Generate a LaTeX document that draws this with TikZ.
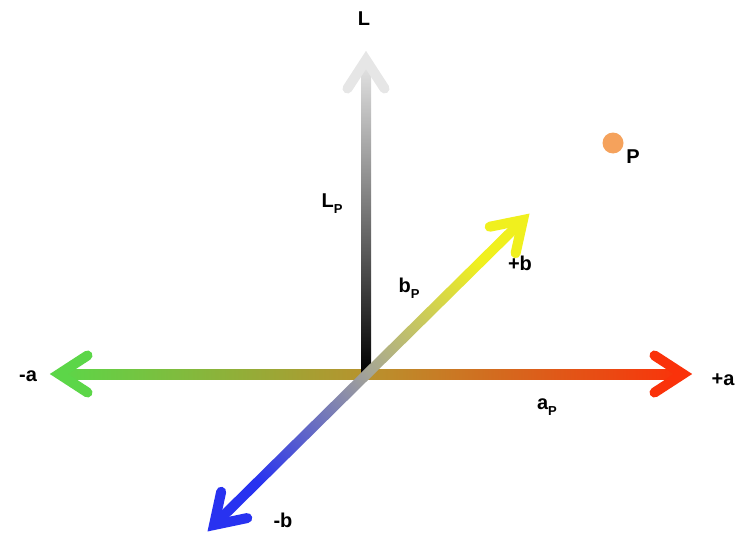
\documentclass[tikz,border=0pt]{standalone}
\usepackage{fontspec}
\setmainfont{Liberation Sans}
\usetikzlibrary{calc}
\definecolor{agreen}{RGB}{92,214,72}
\definecolor{ared}{RGB}{250,50,10}
\definecolor{amid}{RGB}{185,145,45}
\definecolor{byellow}{RGB}{240,240,30}
\definecolor{bblue}{RGB}{40,50,240}
\definecolor{bmid}{RGB}{165,165,150}
\definecolor{ltop}{RGB}{230,230,230}
\definecolor{porange}{RGB}{245,162,92}
\newcommand{\psubscr}{\raisebox{-6pt}{\fontsize{13}{13}\selectfont P}}
\begin{document}
\begin{tikzpicture}[x=1pt,y=-1pt,
  lbl/.style={font=\fontsize{20}{24}\selectfont\bfseries, inner sep=0pt, anchor=base},
  head/.style={line width=10pt, line cap=round, line join=miter},
]
\useasboundingbox (0,0) rectangle (737,535);
\coordinate (O) at (366,374);
\coordinate (Lv) at (366,60);
\coordinate (Ap) at (683,374);
\coordinate (Am) at (59,374);
\coordinate (Bp) at (523,220);
\coordinate (Bm) at (214,525);
% a axis
\shade[left color=agreen, right color=ared, middle color=amid]
  ($(Am)+(0,-5)$) rectangle ($(Ap)+(0,5)$);
% L axis
\shade[bottom color=black, top color=ltop]
  ($(O)+(-5,0)$) rectangle ($(Lv)+(5,0)$);
% b axis
\shade[top color=byellow, bottom color=bblue, middle color=bmid, shading angle=-45]
  ($(Bm)!5pt!90:(Bp)$) -- ($(Bp)!5pt!-90:(Bm)$) -- ($(Bp)!5pt!90:(Bm)$) -- ($(Bm)!5pt!-90:(Bp)$) -- cycle;
% heads
\draw[head, ared]    ($(Ap)!34pt!33:(O)$) -- (Ap) -- ($(Ap)!34pt!-33:(O)$);
\draw[head, agreen]  ($(Am)!34pt!33:(O)$) -- (Am) -- ($(Am)!34pt!-33:(O)$);
\draw[head, ltop]    ($(Lv)!34pt!33:(O)$) -- (Lv) -- ($(Lv)!34pt!-33:(O)$);
\draw[head, byellow] ($(Bp)!34pt!33:(O)$) -- (Bp) -- ($(Bp)!34pt!-33:(O)$);
\draw[head, bblue]   ($(Bm)!34pt!33:(O)$) -- (Bm) -- ($(Bm)!34pt!-33:(O)$);
% point P
\node[circle, fill=porange, minimum size=21pt, inner sep=0pt] (P) at (613,143) {};
% labels
\node[lbl] (Llbl) at (364,26) {L};
\node[lbl] (LPlbl) at (332,207) {L\psubscr};
\node[lbl] (bPlbl) at (409,292) {b\psubscr};
\node[lbl] (aPlbl) at (547,409) {a\psubscr};
\node[lbl] (aplus) at (723,385) {+a};
\node[lbl] (aminus) at (28,381) {-a};
\node[lbl] (bplus) at (520,270) {+b};
\node[lbl] (bminus) at (283,527) {-b};
\node[lbl] (Plbl) at (633,164) {P};
\end{tikzpicture}
\end{document}
